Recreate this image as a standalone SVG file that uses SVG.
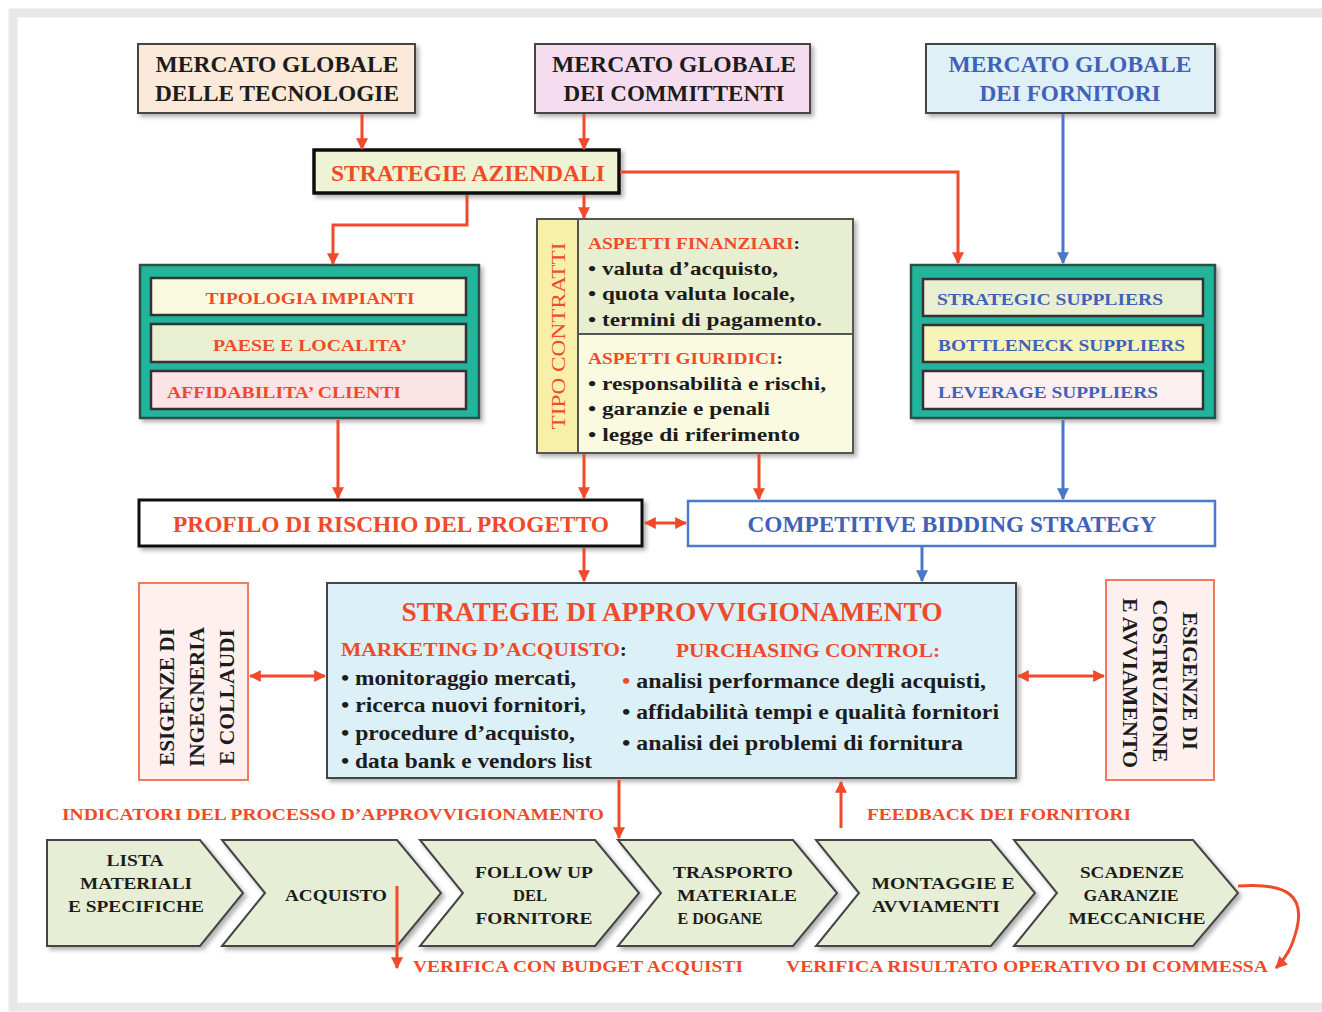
<svg xmlns="http://www.w3.org/2000/svg" width="1322" height="1012" viewBox="0 0 1322 1012">
<style>
.t{font-family:"Liberation Serif","Times New Roman",serif;font-weight:bold}
.red{fill:#ef4a2a}.blk{fill:#1c1c1c}.blu{fill:#3f62b8}
.box{stroke:#444;stroke-width:2}
.rl{stroke:#ef4a2a;stroke-width:3;fill:none}
.bl{stroke:#4a78c8;stroke-width:3;fill:none}
.teal{fill:#22b59b;stroke:#2f4f4a;stroke-width:2.5}
.row{stroke:#333;stroke-width:2.5}
.chev{fill:#e6eed5;stroke:#444;stroke-width:2}
</style>
<defs>
<filter id="sh" x="-10%" y="-10%" width="125%" height="130%"><feDropShadow dx="3" dy="3" stdDeviation="2" flood-color="#000" flood-opacity="0.3"/></filter>
<marker id="ar" viewBox="0 0 10 10" refX="9" refY="5" markerWidth="12" markerHeight="12" markerUnits="userSpaceOnUse" orient="auto-start-reverse"><path d="M0,0 L10,5 L0,10 z" fill="#ef4a2a"/></marker>
<marker id="ab" viewBox="0 0 10 10" refX="9" refY="5" markerWidth="12" markerHeight="12" markerUnits="userSpaceOnUse" orient="auto-start-reverse"><path d="M0,0 L10,5 L0,10 z" fill="#4a78c8"/></marker>
</defs>
<rect x="0" y="0" width="1322" height="1012" fill="#fff"/>
<rect x="13" y="13" width="1320" height="994" fill="none" stroke="#e8e8e8" stroke-width="9"/>

<g id="n-tecnologie">
<rect class="box" x="138" y="44" width="277" height="69" fill="#fbe9d9" filter="url(#sh)"/>
<text class="t blk" x="277" y="72" font-size="23" text-anchor="middle" textLength="243" lengthAdjust="spacingAndGlyphs">MERCATO GLOBALE</text>
<text class="t blk" x="277" y="101" font-size="23" text-anchor="middle" textLength="244" lengthAdjust="spacingAndGlyphs">DELLE TECNOLOGIE</text>
</g>
<g id="n-committenti">
<rect class="box" x="535" y="44" width="275" height="69" fill="#f5ddef" filter="url(#sh)"/>
<text class="t blk" x="674" y="72" font-size="23" text-anchor="middle" textLength="244" lengthAdjust="spacingAndGlyphs">MERCATO GLOBALE</text>
<text class="t blk" x="674" y="101" font-size="23" text-anchor="middle" textLength="221" lengthAdjust="spacingAndGlyphs">DEI COMMITTENTI</text>
</g>
<g id="n-fornitori">
<rect class="box" x="926" y="44" width="289" height="69" fill="#dff0f7" filter="url(#sh)"/>
<text class="t blu" x="1070" y="72" font-size="23" text-anchor="middle" textLength="243" lengthAdjust="spacingAndGlyphs">MERCATO GLOBALE</text>
<text class="t blu" x="1070" y="101" font-size="23" text-anchor="middle" textLength="181" lengthAdjust="spacingAndGlyphs">DEI FORNITORI</text>
</g>

<g id="n-strategie-aziendali">
<rect x="314" y="150" width="305" height="43" fill="#eef3d4" stroke="#111" stroke-width="3.5" filter="url(#sh)"/>
<text class="t red" x="468" y="181" font-size="23" text-anchor="middle" textLength="274" lengthAdjust="spacingAndGlyphs">STRATEGIE AZIENDALI</text>
</g>

<g id="n-committente-group">
<rect class="teal" x="140" y="265" width="339" height="153" filter="url(#sh)"/>
<rect class="row" x="151" y="278" width="315" height="37" fill="#fafae0"/>
<rect class="row" x="151" y="324" width="315" height="38" fill="#e9f0d2"/>
<rect class="row" x="151" y="371" width="315" height="38" fill="#fbe3e6"/>
<text class="t red" x="310" y="304" font-size="17" text-anchor="middle" textLength="209" lengthAdjust="spacingAndGlyphs">TIPOLOGIA IMPIANTI</text>
<text class="t red" x="310" y="351" font-size="17" text-anchor="middle" textLength="194" lengthAdjust="spacingAndGlyphs">PAESE E LOCALITA’</text>
<text class="t red" x="167" y="398" font-size="17" textLength="234" lengthAdjust="spacingAndGlyphs">AFFIDABILITA’ CLIENTI</text>
</g>

<g id="n-tipo-contratti">
<rect x="537" y="219" width="316" height="234" fill="#fafae0" stroke="#555" stroke-width="2" filter="url(#sh)"/>
<rect x="578" y="219" width="275" height="115" fill="#e7efd0"/>
<rect x="537" y="219" width="41" height="234" fill="#f8f0a8"/>
<rect x="537" y="219" width="316" height="234" fill="none" stroke="#555" stroke-width="2"/>
<line x1="578" y1="219" x2="578" y2="453" stroke="#555" stroke-width="2"/>
<line x1="578" y1="334" x2="853" y2="334" stroke="#555" stroke-width="2"/>
<text class="t red" transform="translate(565,336) rotate(-90)" font-size="19" text-anchor="middle" style="font-weight:normal" textLength="187" lengthAdjust="spacingAndGlyphs">TIPO CONTRATTI</text>
<text class="t red" x="588" y="249" font-size="16" textLength="212" lengthAdjust="spacingAndGlyphs">ASPETTI FINANZIARI<tspan class="blk">:</tspan></text>
<text class="t blk" x="588" y="275" font-size="19" textLength="190" lengthAdjust="spacingAndGlyphs">• valuta d’acquisto,</text>
<text class="t blk" x="588" y="300" font-size="19" textLength="207" lengthAdjust="spacingAndGlyphs">• quota valuta locale,</text>
<text class="t blk" x="588" y="326" font-size="19" textLength="234" lengthAdjust="spacingAndGlyphs">• termini di pagamento.</text>
<text class="t red" x="588" y="364" font-size="16" textLength="195" lengthAdjust="spacingAndGlyphs">ASPETTI GIURIDICI<tspan class="blk">:</tspan></text>
<text class="t blk" x="588" y="390" font-size="19" textLength="238" lengthAdjust="spacingAndGlyphs">• responsabilità e rischi,</text>
<text class="t blk" x="588" y="415" font-size="19" textLength="182" lengthAdjust="spacingAndGlyphs">• garanzie e penali</text>
<text class="t blk" x="588" y="441" font-size="19" textLength="212" lengthAdjust="spacingAndGlyphs">• legge di riferimento</text>
</g>

<g id="n-suppliers-group">
<rect class="teal" x="911" y="265" width="304" height="153" filter="url(#sh)"/>
<rect class="row" x="923" y="279" width="280" height="37" fill="#e9f0d2"/>
<rect class="row" x="923" y="325" width="280" height="37" fill="#f7f4b8"/>
<rect class="row" x="923" y="371" width="280" height="38" fill="#fbeff0"/>
<text class="t blu" x="937" y="305" font-size="17" textLength="226" lengthAdjust="spacingAndGlyphs">STRATEGIC SUPPLIERS</text>
<text class="t blu" x="938" y="351" font-size="17" textLength="247" lengthAdjust="spacingAndGlyphs">BOTTLENECK SUPPLIERS</text>
<text class="t blu" x="938" y="398" font-size="17" textLength="220" lengthAdjust="spacingAndGlyphs">LEVERAGE SUPPLIERS</text>
</g>

<g id="n-profilo">
<rect x="139" y="500" width="503" height="46" fill="#fff" stroke="#111" stroke-width="3" filter="url(#sh)"/>
<text class="t red" x="391" y="532" font-size="23" text-anchor="middle" textLength="436" lengthAdjust="spacingAndGlyphs">PROFILO DI RISCHIO DEL PROGETTO</text>
</g>
<g id="n-competitive">
<rect x="688" y="501" width="527" height="45" fill="#fff" stroke="#4a7ad0" stroke-width="2.5"/>
<text class="t blu" x="952" y="532" font-size="23" text-anchor="middle" textLength="409" lengthAdjust="spacingAndGlyphs">COMPETITIVE BIDDING STRATEGY</text>
</g>

<g id="n-strategie-approvvigionamento">
<rect class="box" x="327" y="583" width="689" height="195" fill="#dcf0f7" filter="url(#sh)"/>
<text class="t red" x="672" y="621" font-size="28" text-anchor="middle" textLength="541" lengthAdjust="spacingAndGlyphs">STRATEGIE DI APPROVVIGIONAMENTO</text>
<text class="t red" x="341" y="656" font-size="19" textLength="286" lengthAdjust="spacingAndGlyphs">MARKETING D’ACQUISTO<tspan class="blk">:</tspan></text>
<text class="t blk" x="341" y="685" font-size="20" textLength="235" lengthAdjust="spacingAndGlyphs">• monitoraggio mercati,</text>
<text class="t blk" x="341" y="712" font-size="20" textLength="245" lengthAdjust="spacingAndGlyphs">• ricerca nuovi fornitori,</text>
<text class="t blk" x="341" y="740" font-size="20" textLength="234" lengthAdjust="spacingAndGlyphs">• procedure d’acquisto,</text>
<text class="t blk" x="341" y="768" font-size="20" textLength="251" lengthAdjust="spacingAndGlyphs">• data bank e vendors list</text>
<text class="t red" x="676" y="657" font-size="19" textLength="264" lengthAdjust="spacingAndGlyphs">PURCHASING CONTROL:</text>
<text class="t blk" x="622" y="688" font-size="20" textLength="364" lengthAdjust="spacingAndGlyphs"><tspan class="red">•</tspan> analisi performance degli acquisti,</text>
<text class="t blk" x="622" y="719" font-size="20" textLength="377" lengthAdjust="spacingAndGlyphs">• affidabilità tempi e qualità fornitori</text>
<text class="t blk" x="622" y="750" font-size="20" textLength="341" lengthAdjust="spacingAndGlyphs">• analisi dei problemi di fornitura</text>
</g>

<g id="n-esigenze-ingegneria">
<rect x="139" y="583" width="109" height="197" fill="#fdf0ee" stroke="#f07a5a" stroke-width="2"/>
<text class="t blk" transform="translate(174,697) rotate(-90)" font-size="20" text-anchor="middle" textLength="138" lengthAdjust="spacingAndGlyphs">ESIGENZE DI</text>
<text class="t blk" transform="translate(204,697) rotate(-90)" font-size="20" text-anchor="middle" textLength="140" lengthAdjust="spacingAndGlyphs">INGEGNERIA</text>
<text class="t blk" transform="translate(234,697) rotate(-90)" font-size="20" text-anchor="middle" textLength="136" lengthAdjust="spacingAndGlyphs">E COLLAUDI</text>
</g>
<g id="n-esigenze-costruzione">
<rect x="1106" y="580" width="108" height="200" fill="#fdf0ee" stroke="#f07a5a" stroke-width="2"/>
<text class="t blk" transform="translate(1183,681) rotate(90)" font-size="20" text-anchor="middle" textLength="138" lengthAdjust="spacingAndGlyphs">ESIGENZE DI</text>
<text class="t blk" transform="translate(1153,681) rotate(90)" font-size="20" text-anchor="middle" textLength="163" lengthAdjust="spacingAndGlyphs">COSTRUZIONE</text>
<text class="t blk" transform="translate(1123,683) rotate(90)" font-size="20" text-anchor="middle" textLength="170" lengthAdjust="spacingAndGlyphs">E AVVIAMENTO</text>
</g>

<g id="labels">
<text class="t red" x="62" y="820" font-size="17" textLength="542" lengthAdjust="spacingAndGlyphs">INDICATORI DEL PROCESSO D’APPROVVIGIONAMENTO</text>
<text class="t red" x="867" y="820" font-size="17" textLength="264" lengthAdjust="spacingAndGlyphs">FEEDBACK DEI FORNITORI</text>
<text class="t red" x="413" y="972" font-size="17" textLength="330" lengthAdjust="spacingAndGlyphs">VERIFICA CON BUDGET ACQUISTI</text>
<text class="t red" x="786" y="972" font-size="17" textLength="482" lengthAdjust="spacingAndGlyphs">VERIFICA RISULTATO OPERATIVO DI COMMESSA</text>
</g>

<g id="n-lista">
<path class="chev" d="M47,840 L200,840 L243,893 L200,946 L47,946 Z" filter="url(#sh)"/>
<text class="t blk" x="135" y="866" font-size="17" text-anchor="middle" textLength="57" lengthAdjust="spacingAndGlyphs">LISTA</text>
<text class="t blk" x="136" y="889" font-size="17" text-anchor="middle" textLength="112" lengthAdjust="spacingAndGlyphs">MATERIALI</text>
<text class="t blk" x="136" y="912" font-size="17" text-anchor="middle" textLength="136" lengthAdjust="spacingAndGlyphs">E SPECIFICHE</text>
</g>
<g id="n-acquisto">
<path class="chev" d="M222,840 L397,840 L441,893 L397,946 L222,946 L265,893 Z" filter="url(#sh)"/>
<text class="t blk" x="336" y="901" font-size="17" text-anchor="middle" textLength="102" lengthAdjust="spacingAndGlyphs">ACQUISTO</text>
</g>
<g id="n-follow">
<path class="chev" d="M420,840 L595,840 L639,893 L595,946 L420,946 L463,893 Z" filter="url(#sh)"/>
<text class="t blk" x="534" y="878" font-size="17" text-anchor="middle" textLength="118" lengthAdjust="spacingAndGlyphs">FOLLOW UP</text>
<text class="t blk" x="530" y="901" font-size="17" text-anchor="middle" textLength="34" lengthAdjust="spacingAndGlyphs">DEL</text>
<text class="t blk" x="534" y="924" font-size="17" text-anchor="middle" textLength="117" lengthAdjust="spacingAndGlyphs">FORNITORE</text>
</g>
<g id="n-trasporto">
<path class="chev" d="M618,840 L793,840 L837,893 L793,946 L618,946 L661,893 Z" filter="url(#sh)"/>
<text class="t blk" x="733" y="878" font-size="17" text-anchor="middle" textLength="120" lengthAdjust="spacingAndGlyphs">TRASPORTO</text>
<text class="t blk" x="737" y="901" font-size="17" text-anchor="middle" textLength="120" lengthAdjust="spacingAndGlyphs">MATERIALE</text>
<text class="t blk" x="720" y="924" font-size="17" text-anchor="middle" textLength="85" lengthAdjust="spacingAndGlyphs">E DOGANE</text>
</g>
<g id="n-montaggi">
<path class="chev" d="M816,840 L991,840 L1035,893 L991,946 L816,946 L859,893 Z" filter="url(#sh)"/>
<text class="t blk" x="943" y="889" font-size="17" text-anchor="middle" textLength="143" lengthAdjust="spacingAndGlyphs">MONTAGGIE E</text>
<text class="t blk" x="936" y="912" font-size="17" text-anchor="middle" textLength="128" lengthAdjust="spacingAndGlyphs">AVVIAMENTI</text>
</g>
<g id="n-scadenze">
<path class="chev" d="M1014,840 L1193,840 L1238,893 L1193,946 L1014,946 L1057,893 Z" filter="url(#sh)"/>
<text class="t blk" x="1132" y="878" font-size="17" text-anchor="middle" textLength="104" lengthAdjust="spacingAndGlyphs">SCADENZE</text>
<text class="t blk" x="1131" y="901" font-size="17" text-anchor="middle" textLength="95" lengthAdjust="spacingAndGlyphs">GARANZIE</text>
<text class="t blk" x="1137" y="924" font-size="17" text-anchor="middle" textLength="137" lengthAdjust="spacingAndGlyphs">MECCANICHE</text>
</g>

<g id="connectors">
<line class="rl" x1="362" y1="114" x2="362" y2="149" marker-end="url(#ar)"/>
<line class="rl" x1="584" y1="114" x2="584" y2="149" marker-end="url(#ar)"/>
<polyline class="rl" points="620,172 958,172 958,263" marker-end="url(#ar)"/>
<polyline class="rl" points="467,195 467,225 333,225 333,264" marker-end="url(#ar)"/>
<line class="rl" x1="584" y1="195" x2="584" y2="218" marker-end="url(#ar)"/>
<line class="bl" x1="1063" y1="114" x2="1063" y2="263" marker-end="url(#ab)"/>
<line class="rl" x1="338" y1="420" x2="338" y2="498" marker-end="url(#ar)"/>
<line class="rl" x1="584" y1="454" x2="584" y2="498" marker-end="url(#ar)"/>
<line class="rl" x1="759" y1="454" x2="759" y2="499" marker-end="url(#ar)"/>
<line class="bl" x1="1063" y1="420" x2="1063" y2="499" marker-end="url(#ab)"/>
<line class="rl" x1="645" y1="523" x2="686" y2="523" marker-start="url(#ar)" marker-end="url(#ar)"/>
<line class="rl" x1="584" y1="548" x2="584" y2="581" marker-end="url(#ar)"/>
<line class="bl" x1="922" y1="547" x2="922" y2="581" marker-end="url(#ab)"/>
<line class="rl" x1="250" y1="676" x2="325" y2="676" marker-start="url(#ar)" marker-end="url(#ar)"/>
<line class="rl" x1="1018" y1="676" x2="1104" y2="676" marker-start="url(#ar)" marker-end="url(#ar)"/>
<line class="rl" x1="619" y1="780" x2="619" y2="838" marker-end="url(#ar)"/>
<line class="rl" x1="841" y1="828" x2="841" y2="782" marker-end="url(#ar)"/>
<line class="rl" x1="397" y1="886" x2="397" y2="968" stroke-width="2" marker-end="url(#ar)"/>
<path class="rl" d="M1238,886 C1290,882 1304,898 1297,928 C1292,948 1286,958 1276,968" marker-end="url(#ar)"/>
</g>
</svg>
